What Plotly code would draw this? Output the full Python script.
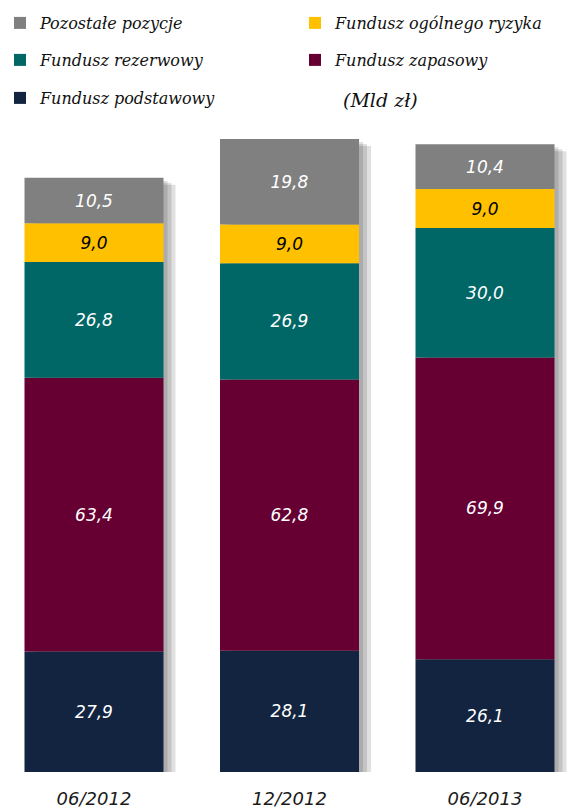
import numpy as np
import plotly.graph_objects as go

# Values in mld zł
periods = ["06/2012", "12/2012", "06/2013"]
podstawowy = [27.9, 28.1, 26.1]
zapasowy = [63.4, 62.8, 69.9]
rezerwowy = [26.8, 26.9, 30.0]
ogolnego_ryzyka = [9.0, 9.0, 9.0]
pozostale = [10.5, 19.8, 10.4]

series = [
    ("Fundusz podstawowy", podstawowy, "#12243F", "white"),
    ("Fundusz zapasowy", zapasowy, "#660033", "white"),
    ("Fundusz rezerwowy", rezerwowy, "#006666", "white"),
    ("Fundusz ogólnego ryzyka", ogolnego_ryzyka, "#FFC000", "black"),
    ("Pozostałe pozycje", pozostale, "#808080", "white"),
]

W, H = 571, 810
TOP, BOTTOM = 139, 772
Y_MAX = 146.6
SPACING_PX = 195.5
FIRST_CENTER_PX = 94
BAR_W = 139 / SPACING_PX

x_lo = -FIRST_CENTER_PX / SPACING_PX
x_hi = x_lo + W / SPACING_PX
px_x = 1 / SPACING_PX
px_y = Y_MAX / (BOTTOM - TOP)

fig = go.Figure()

# soft drop shadow behind each stacked column
totals = np.sum([s[1] for s in series], axis=0)
for dx, dy in [(4, 3), (8, 5), (12, 7)]:
    fig.add_trace(go.Bar(
        x=periods, y=totals - dy * px_y, base=0,
        width=BAR_W, offset=-BAR_W / 2 + dx * px_x,
        marker=dict(color="rgba(0,0,0,0.12)", line=dict(width=0)),
        showlegend=False, hoverinfo="skip",
    ))

legend_slots = {
    "Pozostałe pozycje": "legend",
    "Fundusz ogólnego ryzyka": "legend2",
    "Fundusz rezerwowy": "legend3",
    "Fundusz zapasowy": "legend4",
    "Fundusz podstawowy": "legend5",
}

base = np.zeros(len(periods))
for name, vals, color, tcolor in series:
    vals = np.array(vals)
    fig.add_trace(go.Bar(
        x=periods, y=vals, base=base.copy(), name=name,
        width=BAR_W, offset=-BAR_W / 2,
        marker=dict(color=color, line=dict(width=0)),
        texttemplate="%{y:.1f}", textposition="inside",
        insidetextanchor="middle", textangle=0, constraintext="none",
        textfont=dict(family="DejaVu Sans", size=17, color=tcolor, style="italic"),
        legend=legend_slots[name],
    ))
    base += vals

legend_font = dict(family="DejaVu Serif", size=16, color="#111111", style="italic")


def legend_at(x_px, y_px):
    return dict(
        x=x_px / W, y=1 - y_px / H, xref="container", yref="container",
        xanchor="left", yanchor="middle", orientation="h",
        font=legend_font, bgcolor="rgba(0,0,0,0)", borderwidth=0,
        itemwidth=30, tracegroupgap=0,
    )


fig.update_layout(
    width=W, height=H,
    margin=dict(l=0, r=0, t=TOP, b=H - BOTTOM),
    paper_bgcolor="white", plot_bgcolor="white",
    barmode="overlay", separators=", ",
    legend=legend_at(-4, 23),
    legend2=legend_at(295, 23),
    legend3=legend_at(-4, 60),
    legend4=legend_at(295, 60),
    legend5=legend_at(-4, 98),
    xaxis=dict(range=[x_lo, x_hi], showgrid=False, showline=False, zeroline=False,
               ticks="", ticklabelstandoff=14,
               tickfont=dict(family="DejaVu Sans", size=18, color="#1a1a1a", style="italic")),
    yaxis=dict(range=[0, Y_MAX], visible=False, showgrid=False, zeroline=False),
    annotations=[dict(
        text="(Mld zł)", x=380 / W, y=(BOTTOM - 100) / (BOTTOM - TOP),
        xref="paper", yref="paper",
        showarrow=False, xanchor="center", yanchor="middle",
        font=dict(family="DejaVu Serif", size=19, color="#111111", style="italic"),
    )],
)

fig.write_html("out.html")
